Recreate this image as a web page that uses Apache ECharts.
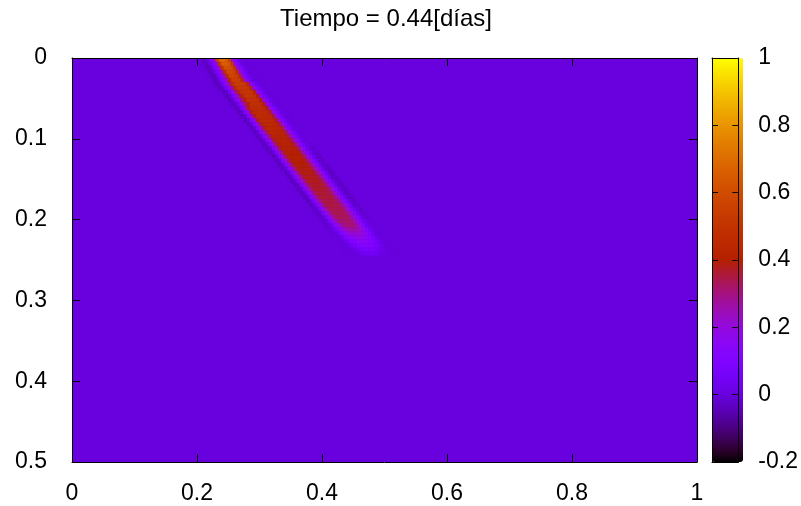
<!DOCTYPE html>
<html lang="es">
<head>
<meta charset="UTF-8">
<title>Tiempo = 0.44[días]</title>
<script src="https://cdn.jsdelivr.net/npm/echarts@6/dist/echarts.min.js"></script>
<style>html,body{margin:0;background:#fff}</style>
</head>
<body>
<div id="main" style="width:801px;height:506px;"></div>
<script>
var titulo = 'Tiempo = 0.44[días]';
var fuente = 'Liberation Sans';

// fondo del dominio: x 0..1, y 0..0.5, valor ~0
var fondo = [[0, 1, 0, 0.5, 0]];

// estela: una fila por cada y, celdas de 0.005 a partir de filaX0
var celda = 0.005;
var filaY = [0,0.005,0.01,0.015,0.02,0.025,0.03,0.035,0.04,0.045,0.05,0.055,0.06,0.065,0.07,0.075,0.08,0.085,0.09,0.095,
  0.1,0.105,0.11,0.115,0.12,0.125,0.13,0.135,0.14,0.145,0.15,0.155,0.16,0.165,0.17,0.175,0.18,0.185,0.19,0.195,
  0.2,0.205,0.21,0.215,0.22,0.225,0.23,0.235,0.24];
var filaX0 = [0.2,0.204,0.208,0.212,0.216,0.22,0.224,0.229,0.235,0.24,0.245,0.25,0.255,0.26,0.265,0.27,0.275,0.28,0.285,0.29,
  0.295,0.3,0.305,0.31,0.315,0.32,0.325,0.33,0.335,0.34,0.345,0.35,0.355,0.36,0.365,0.37,0.375,0.38,0.385,0.39,
  0.395,0.4,0.405,0.41,0.415,0.42,0.425,0.43,0.435];
var filaValores = [
  [0,-.02,-.03,.02,.1,.2,.55,.68,.68,.66,.55,.2,.1,.03,0,0,0],
  [0,-.02,-.03,.02,.1,.2,.53,.66,.66,.64,.53,.2,.1,.03,0,0,0],
  [0,-.03,-.03,.02,.11,.21,.5,.62,.62,.61,.5,.21,.1,.03,0,0,0],
  [0,-.03,-.03,.03,.12,.22,.48,.59,.59,.58,.48,.22,.1,.03,0,0,0],
  [0,-.03,-.03,.03,.12,.23,.46,.57,.57,.56,.46,.22,.1,.03,0,0,0],
  [0,-.04,-.03,.04,.13,.24,.45,.55,.55,.55,.45,.23,.1,.03,0,0,0],
  [0,-.04,-.02,.05,.15,.26,.46,.54,.54,.54,.53,.44,.2,.09,.03,0,0],
  [0,-.04,-.02,.05,.15,.27,.45,.53,.53,.53,.52,.43,.2,.09,.03,0,0],
  [0,-.04,-.02,.06,.16,.28,.44,.52,.52,.52,.51,.42,.2,.09,.03,0,0],
  [0,-.04,-.02,.06,.16,.29,.43,.51,.51,.51,.5,.41,.2,.1,.03,0,0],
  [0,-.04,-.02,.07,.17,.3,.42,.5,.5,.5,.49,.4,.21,.1,.03,0,0],
  [0,-.04,-.02,.07,.17,.31,.41,.49,.49,.49,.48,.39,.21,.1,.03,0,0],
  [0,-.04,-.01,.09,.2,.38,.48,.48,.48,.48,.47,.38,.22,.11,.04,0,0],
  [0,-.04,-.01,.09,.2,.38,.47,.47,.47,.47,.46,.37,.22,.11,.04,0,0],
  [0,-.04,-.01,.09,.2,.38,.47,.47,.47,.47,.46,.37,.22,.11,.04,0,0],
  [0,-.04,-.01,.09,.2,.37,.46,.46,.46,.46,.45,.37,.22,.11,.04,0,0],
  [0,-.04,-.01,.09,.2,.36,.45,.45,.45,.45,.44,.36,.22,.11,.04,0,0],
  [0,-.04,-.01,.09,.2,.36,.45,.45,.45,.45,.44,.36,.22,.11,.04,0,0],
  [0,-.04,-.01,.09,.2,.35,.44,.44,.44,.44,.43,.35,.22,.11,.04,0,0],
  [0,-.04,-.01,.09,.2,.34,.43,.43,.43,.43,.42,.34,.22,.11,.04,0,0],
  [0,-.04,-.01,.09,.2,.34,.43,.43,.43,.43,.42,.34,.22,.11,.04,0,0],
  [0,-.04,-.01,.09,.2,.34,.42,.42,.42,.42,.41,.34,.22,.11,.04,0,0],
  [0,-.04,-.01,.09,.2,.34,.42,.42,.42,.42,.41,.34,.22,.11,.03,-.01,-.01],
  [0,-.04,-.01,.09,.2,.33,.41,.41,.41,.41,.4,.33,.22,.11,.03,-.01,-.02],
  [0,-.04,-.01,.09,.2,.33,.41,.41,.41,.41,.4,.33,.22,.11,.03,-.01,-.02],
  [0,-.04,-.01,.09,.2,.32,.4,.4,.4,.4,.39,.32,.22,.11,.03,-.02,-.02],
  [0,-.04,-.01,.09,.2,.32,.4,.4,.4,.4,.39,.32,.22,.11,.03,-.02,-.02],
  [0,-.04,-.01,.09,.2,.31,.39,.39,.39,.39,.38,.31,.22,.11,.03,-.02,-.03],
  [0,-.04,-.01,.09,.2,.31,.39,.39,.39,.39,.38,.31,.22,.11,.03,-.02,-.03],
  [0,-.04,-.01,.09,.2,.3,.38,.38,.38,.38,.37,.31,.22,.11,.03,-.02,-.03],
  [0,-.04,-.01,.09,.2,.3,.38,.38,.38,.38,.37,.31,.22,.11,.03,-.02,-.03],
  [0,-.04,-.01,.09,.2,.3,.37,.37,.37,.37,.36,.3,.22,.11,.03,-.02,-.03],
  [0,-.04,-.01,.09,.2,.3,.37,.37,.37,.37,.36,.3,.22,.11,.03,-.02,-.03],
  [0,-.04,-.01,.09,.19,.29,.36,.36,.36,.36,.35,.29,.21,.11,.03,-.02,-.03],
  [0,-.04,-.01,.09,.19,.29,.36,.36,.36,.36,.35,.29,.21,.11,.03,-.02,-.03],
  [0,-.04,-.01,.09,.19,.28,.35,.35,.35,.35,.34,.29,.21,.11,.03,-.02,-.02],
  [0,-.04,-.01,.09,.19,.28,.35,.35,.35,.35,.34,.29,.21,.11,.03,-.02,-.02],
  [0,-.03,-.01,.08,.18,.27,.34,.34,.34,.34,.34,.28,.21,.11,.04,-.01,-.02],
  [0,-.03,-.01,.08,.17,.26,.33,.34,.34,.34,.33,.28,.21,.12,.04,-.01,-.01],
  [0,-.03,-.01,.07,.16,.25,.32,.33,.33,.33,.32,.27,.2,.12,.05,0,-.01],
  [0,-.02,-.01,.07,.15,.23,.3,.32,.32,.32,.31,.26,.2,.12,.05,.01,0],
  [0,-.02,0,.06,.14,.2,.27,.3,.31,.31,.3,.25,.18,.1,.04,.01,0],
  [0,-.01,0,.05,.12,.18,.23,.26,.27,.27,.26,.22,.17,.1,.04,.01,0],
  [0,-.01,0,.04,.1,.15,.19,.21,.22,.22,.21,.19,.15,.09,.04,.01,0],
  [0,0,0,.03,.08,.12,.15,.17,.18,.18,.17,.15,.12,.08,.03,.01,0],
  [0,0,0,.02,.06,.1,.12,.14,.15,.15,.14,.12,.1,.06,.03,0,0],
  [0,0,0,.01,.04,.07,.09,.11,.12,.12,.11,.09,.07,.04,.02,0,0],
  [0,0,0,0,.02,.04,.06,.08,.08,.08,.07,.06,.04,.02,.01,0,0],
  [0,0,0,0,.01,.02,.03,.04,.04,.04,.04,.03,.02,.01,0,0,0]
];

var cbMin = -0.2, cbMax = 1;

// celdas [x0, x1, y0, y1, valor]
var celdas = fondo.slice();
filaValores.forEach(function (fila, i) {
  fila.forEach(function (v, k) {
    var x0 = filaX0[i] + k * celda;
    celdas.push([x0, x0 + celda, filaY[i], filaY[i] + celda, v]);
  });
});

// paleta de gnuplot (rgbformulae 7,5,15)
function paleta(n) {
  var c = [];
  for (var i = 0; i <= n; i++) {
    var t = i / n;
    var r = Math.sqrt(t), g = t * t * t, b = Math.max(0, Math.sin(2 * Math.PI * t));
    c.push('rgb(' + Math.round(r * 255) + ',' + Math.round(g * 255) + ',' + Math.round(b * 255) + ')');
  }
  return c;
}

function pintarCelda(params, api) {
  var p0 = api.coord([api.value(0), api.value(2)]);
  var p1 = api.coord([api.value(1), api.value(3)]);
  var color = api.visual('color');
  return {
    type: 'rect',
    shape: {
      x: Math.min(p0[0], p1[0]), y: Math.min(p0[1], p1[1]),
      width: Math.abs(p1[0] - p0[0]), height: Math.abs(p1[1] - p0[1])
    },
    style: { fill: color, stroke: color, lineWidth: 0.6 }
  };
}

var negro = '#000';
var etiqueta = { fontFamily: fuente, fontSize: 23, color: negro };

function eje(extra) {
  var base = {
    type: 'value', z: 10,
    axisLine: { show: true, onZero: false, lineStyle: { color: negro, width: 1 } },
    axisTick: { show: true, inside: true, length: 8, lineStyle: { color: negro } },
    splitLine: { show: false },
    axisLabel: { show: false }
  };
  return Object.assign(base, extra);
}
var marcasBarra = { show: true, inside: true, length: 6, lineStyle: { color: negro } };

var myChart = echarts.init(document.getElementById('main'));
var option = {
  animation: false,
  backgroundColor: '#fff',
  title: {
    text: titulo, left: 381, top: 2, textAlign: 'center',
    textStyle: { fontFamily: fuente, fontSize: 24, fontWeight: 'normal', color: negro }
  },
  grid: [
    { left: 72, right: 104, top: 58, bottom: 44 },
    { left: 712, width: 31, top: 58, height: 404 }
  ],
  xAxis: [
    eje({ gridIndex: 0, min: 0, max: 1, interval: 0.2, position: 'bottom',
      axisLabel: Object.assign({ show: true, margin: 20 }, etiqueta) }),
    eje({ gridIndex: 0, min: 0, max: 1, interval: 0.2, position: 'top' }),
    eje({ gridIndex: 1, min: 0, max: 1, position: 'bottom', axisTick: { show: false } }),
    eje({ gridIndex: 1, min: 0, max: 1, position: 'top', axisTick: { show: false } })
  ],
  yAxis: [
    eje({ gridIndex: 0, min: 0, max: 0.5, interval: 0.1, inverse: true, position: 'left',
      axisLabel: Object.assign({ show: true, margin: 25, padding: [0, 0, 6, 0] }, etiqueta) }),
    eje({ gridIndex: 0, min: 0, max: 0.5, interval: 0.1, inverse: true, position: 'right' }),
    eje({ gridIndex: 1, min: cbMin, max: cbMax, interval: 0.2, position: 'right', axisTick: marcasBarra,
      axisLabel: Object.assign({ show: true, margin: 20, padding: [0, 0, 6, 0] }, etiqueta) }),
    eje({ gridIndex: 1, min: cbMin, max: cbMax, interval: 0.2, position: 'left', axisTick: marcasBarra })
  ],
  visualMap: {
    type: 'continuous', min: cbMin, max: cbMax, dimension: 4, seriesIndex: 0,
    calculable: false, hoverLink: false, realtime: false,
    left: 712, top: 58, itemWidth: 31, itemHeight: 404, padding: 0,
    text: null, showLabel: false,
    inRange: { color: paleta(48) }
  },
  series: [{
    type: 'custom',
    xAxisIndex: 0, yAxisIndex: 0,
    renderItem: pintarCelda,
    clip: true,
    silent: true,
    encode: { x: [0, 1], y: [2, 3] },
    data: celdas
  }]
};
myChart.setOption(option);
</script>
</body>
</html>
